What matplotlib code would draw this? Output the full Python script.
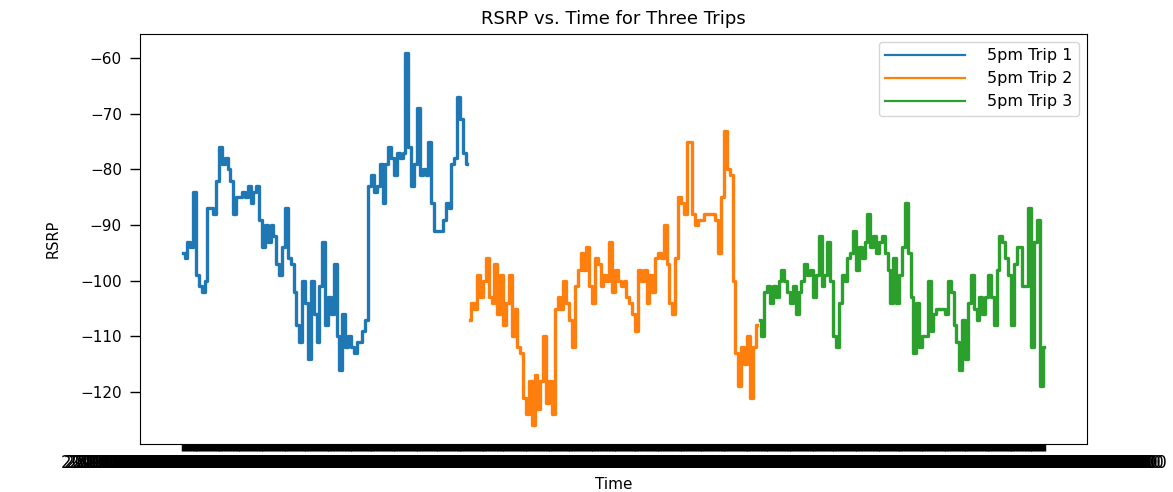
import pandas as pd
import matplotlib
matplotlib.use('Agg')
import matplotlib.pyplot as plt

# RSRP readings (dBm) logged during three 5pm drives
rsrp_trip1 = [
    -95, -96, -93, -94, -84, -99, -101, -102, -100, -87,
    -87, -88, -82, -76, -79, -78, -80, -82, -88, -85,
    -85, -84, -85, -83, -86, -84, -83, -89, -94, -90,
    -93, -90, -92, -97, -99, -94, -87, -96, -97, -102,
    -108, -111, -100, -104, -114, -100, -106, -111, -101, -93,
    -108, -103, -106, -97, -110, -116, -106, -112, -110, -112,
    -113, -111, -111, -109, -107, -83, -81, -84, -83, -79,
    -86, -79, -76, -78, -81, -77, -78, -77, -59, -76,
    -83, -79, -69, -81, -80, -81, -75, -86, -91, -91,
    -91, -89, -86, -87, -79, -78, -67, -71, -77, -79,
]
rsrp_trip2 = [
    -107, -104, -105, -99, -103, -100, -96, -103, -104, -97,
    -106, -99, -108, -104, -99, -110, -105, -112, -113, -121,
    -124, -118, -126, -117, -123, -118, -110, -122, -118, -124,
    -105, -103, -105, -100, -104, -107, -112, -101, -98, -95,
    -98, -94, -101, -104, -96, -97, -101, -99, -100, -93,
    -102, -98, -100, -101, -100, -103, -104, -106, -109, -98,
    -100, -98, -104, -99, -102, -96, -95, -96, -90, -97,
    -104, -106, -96, -85, -86, -88, -75, -75, -88, -90,
    -89, -89, -88, -88, -88, -88, -89, -95, -85, -73,
    -80, -81, -100, -113, -119, -112, -115, -110, -121, -112,
    -108,
]
rsrp_trip3 = [
    -107, -110, -102, -101, -104, -101, -103, -100, -98, -100,
    -102, -104, -101, -106, -102, -100, -97, -99, -98, -103,
    -99, -92, -101, -99, -93, -100, -110, -112, -104, -99,
    -100, -96, -95, -91, -98, -94, -96, -93, -88, -94,
    -92, -95, -93, -92, -95, -98, -104, -96, -104, -99,
    -94, -86, -95, -103, -113, -104, -112, -110, -110, -100,
    -109, -106, -105, -105, -105, -106, -100, -102, -108, -111,
    -116, -107, -114, -104, -99, -105, -107, -103, -106, -103,
    -99, -103, -108, -98, -92, -93, -96, -99, -108, -97,
    -94, -94, -101, -101, -87, -112, -93, -89, -119, -112,
]

# sample timestamps (one reading per second), used as categorical x values
start_times = ['2023-05-08 17:02:11.204000', '2023-05-09 17:05:37.518000', '2023-05-10 17:01:48.930000']
trips = [rsrp_trip1, rsrp_trip2, rsrp_trip3]
labels = ['5pm Trip 1', '5pm Trip 2', '5pm Trip 3']

fig = plt.figure(figsize=(11.73, 4.92), dpi=100)
ax = fig.add_axes([0.1194, 0.0976, 0.8073, 0.8333])

for start, vals, lab in zip(start_times, trips, labels):
    t = pd.date_range(start, periods=len(vals), freq='s')
    times = [s.strftime('%Y-%m-%d %H:%M:%S.%f') for s in t]
    ax.plot(times, vals, linewidth=2.4, drawstyle='steps-mid', label=lab)

ax.set_title('RSRP vs. Time for Three Trips', fontsize=13, pad=7)
ax.set_xlabel('Time', fontsize=11, labelpad=4)
ax.set_ylabel('RSRP', fontsize=10.5, labelpad=14)
ax.tick_params(axis='y', labelsize=11, length=7, width=1, pad=6)
ax.tick_params(axis='x', labelsize=12, length=5, width=2.5, pad=2)
ax.set_yticks([-120, -110, -100, -90, -80, -70, -60])
leg = ax.legend(loc='upper right', fontsize=11.5, handlelength=5, handletextpad=1.4)
for line in leg.get_lines():
    line.set_linewidth(1.6)

plt.savefig('out.png', dpi=100)
